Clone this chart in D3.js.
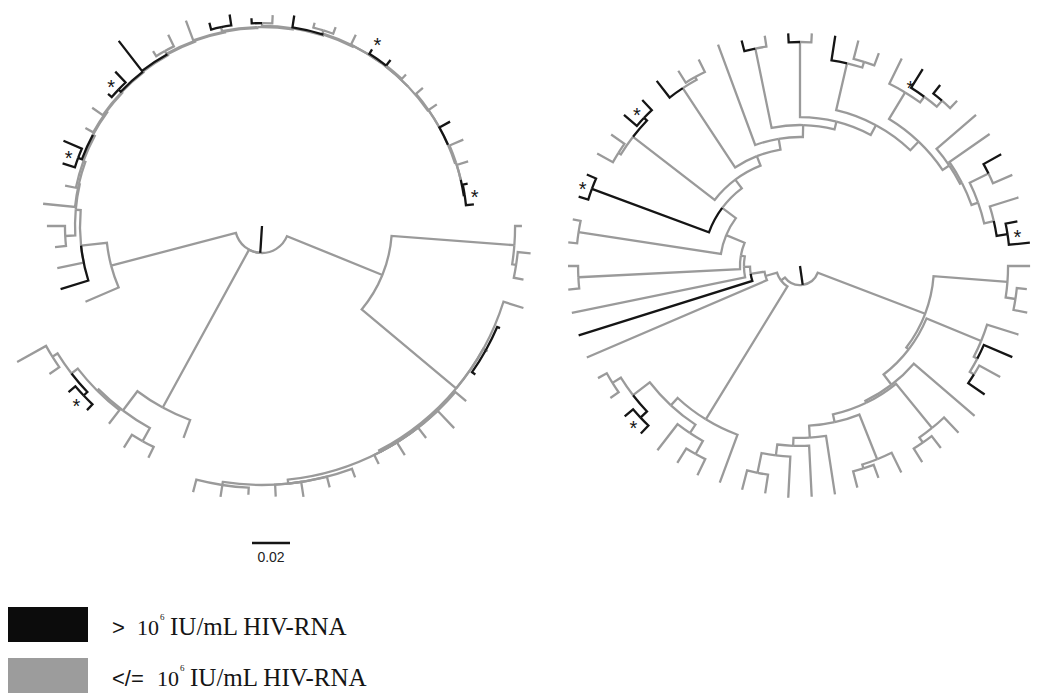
<!DOCTYPE html>
<html>
<head>
<meta charset="utf-8">
<script src="https://cdn.jsdelivr.net/npm/d3@7"></script>
<style>
  body { margin: 0; background: #fff; }
</style>
</head>
<body>
<div id="container"></div>
<script>
// Newick clades, value after ":" = distance from the root (subst./site).
// "#" marks a branch of a > 10^6 IU/mL patient, "*" marks a starred cluster.
const leftCladeA = "((:0.1368,(:0.1421,:0.1405):0.1353):0.1332,(:0.1442,(#:0.1363,:0.1358,#:0.1368):0.1347,(:0.1416,:0.1468,:0.1411,:0.1421,:0.1395,(:0.1411,:0.1421,:0.1442,:0.1426,(:0.1416,:0.1442,:0.1447):0.1379):0.1363):0.1342):0.1332):0.0684";
const leftCladeB = "(:0.1189,((:0.1358,:0.1374):0.1295,(:0.1316,((#:0.1337,#:0.1342)#*:0.1295,(:0.1363,:0.1474):0.1300):0.1268):0.1226):0.1216):0.1089";
const leftCladeC = "(:0.1011,(#:0.1111,:0.1100,((:0.1095,:0.1132):0.1037,(:0.1158,(:0.1058,((#:0.1100,#:0.1137)#*:0.1032,(:0.1063,(:0.1089,((#:0.1068,#:0.1121)#*:0.1042,(#:0.1232,((:0.1084,:0.1121):0.1053,(:0.1153,((#:0.1105,#:0.1126):0.1068,((#:0.1095,:0.1111):0.1068,(#:0.1121,((:0.1105,:0.1116):0.1079,(:0.1121,((#*:0.1095,#:0.1105,:0.1100):0.1068,(:0.1116,(:0.1121,(#:0.1132,(:0.1153,(:0.1137,(#:0.1105,#:0.1121)#*:0.1079):0.1074):0.1074):0.1068):0.1068):0.1068):0.1063):0.1063):0.1063):0.1058):0.1053):0.1047):0.1042):0.1037):0.1032):0.1026):0.1021):0.1016):0.1011):0.1000):0.0989):0.0984):0.0958):0.0821";
const leftRoot = "#:0.0142";

const rightCladeA = "((:0.1211,(:0.1200,:0.1221):0.1147):0.1095,((:0.1205,(#:0.1216,(:0.1205,#:0.1184):0.1079):0.1053):0.1032,(:0.1211,((:0.1211,(:0.1211,:0.1216):0.1132):0.1100,((:0.1211,(:0.1189,:0.1205):0.1116):0.1095,(:0.1216,(:0.1216,(:0.1221,(:0.1211,:0.1216):0.1111):0.1005):0.0947):0.0905):0.0842):0.0800):0.0789):0.0721):0.0705";
const rightCladeB = "(:0.1216,(((:0.1226,:0.1221):0.1132,:0.1226):0.1053,((#:0.1216,#:0.1216)#*:0.1158,(:0.1216,:0.1216):0.1163):0.1111):0.1000):0.0947";
const rightCladeC = "(:0.1221,(#:0.1221,(:0.1226,((:0.1226,:0.1221):0.1168,((:0.1226,:0.1221):0.1179,((#:0.1221,#:0.1221)#*:0.1168,(((:0.1221,:0.1211):0.1126,(#:0.1221,#:0.1205)#*:0.1132):0.1111,((#:0.1232,(:0.1211,:0.1211):0.1137):0.1121,(:0.1242,((#:0.1226,:0.1226):0.1168,((#:0.1226,:0.1226):0.1179,((#:0.1226,(:0.1226,:0.1195):0.1126):0.1095,((:0.1216,(#:0.1221,(#:0.1205,:0.1200):0.1147):0.1105)*:0.1068,(:0.1221,(:0.1216,((#:0.1211,:0.1216):0.1105,(:0.1205,(#:0.1168,#:0.1216)#*:0.1105):0.1047):0.0995):0.0958):0.0947):0.0905):0.0842):0.0784):0.0742):0.0679):0.0621):0.0568):0.0511):0.0421):0.0316):0.0295):0.0263):0.0189";
const rightInner = ":0.0126";
const rightRoot = "#:0.0100";

const scaleBarValue = 0.02;
const legendSymbols = [">", "</="];
const legendBase = "10";
const legendExponent = "6";
const legendUnit = "IU/mL HIV-RNA";

const leftNewick = "(" + leftCladeA + "," + leftCladeB + "," + leftCladeC + ")" + leftRoot;
const rightNewick = "(" + rightCladeA + ",(" + rightCladeB + "," + rightCladeC + ")" + rightInner + ")" + rightRoot;

const w = 1041, h = 698;
const grey = "#9a9a9a", ink = "#151515";

const svg = d3.select("#container").append("svg")
  .attr("width", w).attr("height", h)
  .style("background", "#fff");

const rScale = d3.scaleLinear().domain([0, scaleBarValue]).range([0, 38]);

function parseNewick(str) {
  const s = str.replace(/\s+/g, "");
  let i = 0;
  function readNode() {
    const node = {};
    if (s[i] === "(") {
      node.children = [];
      do { i++; node.children.push(readNode()); } while (s[i] === ",");
      i++; // ")"
    }
    let label = "";
    while (i < s.length && ",():".indexOf(s[i]) < 0) label += s[i++];
    node.high = label.indexOf("#") >= 0;
    node.star = label.indexOf("*") >= 0;
    if (s[i] === ":") {
      i++;
      let num = "";
      while (i < s.length && ",()".indexOf(s[i]) < 0) num += s[i++];
      node.depth = +num;
    }
    return node;
  }
  return readNode();
}

function layoutTree(newick) {
  const root = d3.hierarchy(parseNewick(newick));
  const leaves = root.leaves();
  const angle = d3.scaleLinear().domain([0, leaves.length]).range([0, 360]);
  leaves.forEach((d, i) => d.angle = angle(i));
  root.eachAfter(d => {
    if (d.children) d.angle = (d.children[0].angle + d.children[d.children.length - 1].angle) / 2;
    d.r = rScale(d.data.depth);
  });
  return root;
}

const rad = a => a * Math.PI / 180;

function linkPath(s, t) {
  const p = d3.path();
  const a0 = rad(s.angle), a1 = rad(t.angle);
  p.moveTo(s.r * Math.cos(a0), s.r * Math.sin(a0));
  if (a1 !== a0) p.arc(0, 0, s.r, a0, a1, a1 < a0);
  p.lineTo(t.r * Math.cos(a1), t.r * Math.sin(a1));
  return p.toString();
}

function drawTree(newick, cx, cy) {
  const root = layoutTree(newick);
  const g = svg.append("g").attr("transform", "translate(" + cx + "," + cy + ")");

  const links = root.links().sort((a, b) => a.target.data.high - b.target.data.high);
  g.selectAll("path.link")
    .data(links)
    .join("path")
    .attr("class", "link")
    .attr("d", d => linkPath(d.source, d.target))
    .attr("fill", "none")
    .attr("stroke", d => d.target.data.high ? ink : grey)
    .attr("stroke-width", 2.3)
    .attr("stroke-linejoin", "miter");

  // root stem
  const a = rad(root.angle);
  g.append("line")
    .attr("x1", 0).attr("y1", 0)
    .attr("x2", root.r * Math.cos(a)).attr("y2", root.r * Math.sin(a))
    .attr("stroke", root.data.high ? ink : grey)
    .attr("stroke-width", 2.3);

  g.selectAll("text.star")
    .data(root.descendants().filter(d => d.data.star))
    .join("text")
    .attr("class", "star")
    .attr("x", d => (d.r + 10) * Math.cos(rad(d.angle)))
    .attr("y", d => (d.r + 10) * Math.sin(rad(d.angle)) + 11)
    .attr("text-anchor", "middle")
    .attr("font-family", "Liberation Sans, Arial, sans-serif")
    .attr("font-size", 20)
    .attr("fill", ink)
    .text("*");
}

drawTree(leftNewick, 262, 226);
drawTree(rightNewick, 800, 266);

// scale bar
const barX = 252, barY = 543;
svg.append("line")
  .attr("x1", barX).attr("x2", barX + rScale(scaleBarValue))
  .attr("y1", barY).attr("y2", barY)
  .attr("stroke", ink).attr("stroke-width", 2.5);
svg.append("text")
  .attr("x", barX + rScale(scaleBarValue) / 2).attr("y", 562)
  .attr("text-anchor", "middle")
  .attr("font-family", "Liberation Sans, Arial, sans-serif")
  .attr("font-size", 14)
  .attr("fill", "#222")
  .text(d3.format(".2f")(scaleBarValue));

// legend
const legend = svg.append("g");
const rowY = [607, 658];
const baseX = [137, 157];
legendSymbols.forEach((sym, i) => {
  const y0 = rowY[i];
  legend.append("rect")
    .attr("x", 8).attr("y", y0).attr("width", 80).attr("height", 35)
    .attr("fill", i === 0 ? "#0c0c0c" : "#9c9c9c");
  legend.append("text")
    .attr("x", 112).attr("y", y0 + 28)
    .attr("font-family", "Liberation Sans, Arial, sans-serif")
    .attr("font-size", 22).attr("fill", ink)
    .text(sym);
  legend.append("text")
    .attr("x", baseX[i]).attr("y", y0 + 28)
    .attr("font-family", "Liberation Serif, Times New Roman, serif")
    .attr("font-size", 22).attr("fill", ink)
    .text(legendBase);
  legend.append("text")
    .attr("x", baseX[i] + 23).attr("y", y0 + 13)
    .attr("font-family", "Liberation Serif, Times New Roman, serif")
    .attr("font-size", 9).attr("fill", ink)
    .text(legendExponent);
  legend.append("text")
    .attr("x", baseX[i] + 33).attr("y", y0 + 28)
    .attr("font-family", "Liberation Serif, Times New Roman, serif")
    .attr("font-size", 25).attr("fill", ink)
    .text(legendUnit);
});
</script>
</body>
</html>
